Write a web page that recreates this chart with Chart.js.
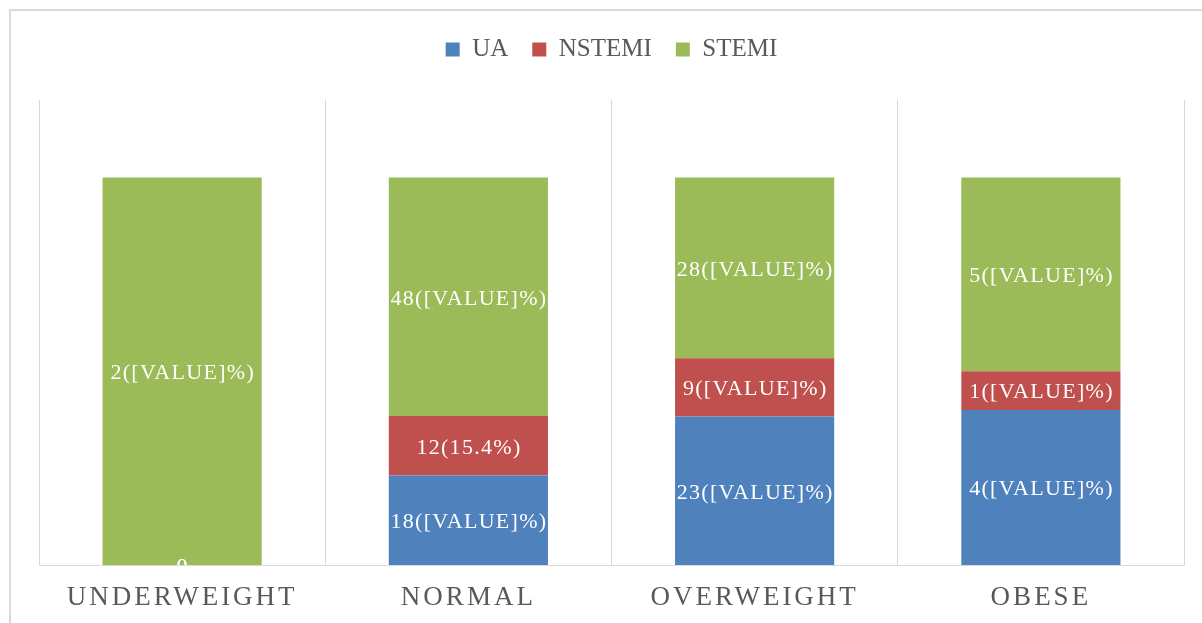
<!DOCTYPE html>
<html>
<head>
<meta charset="utf-8">
<script src="https://cdn.jsdelivr.net/npm/chart.js@4.4.1/dist/chart.umd.min.js"></script>
<style>
  html, body { margin: 0; padding: 0; background: #fff; overflow: hidden; }
  #frame {
    position: absolute; left: 9px; top: 9px;
    width: 1300px; height: 700px;
    border: 2px solid #d9d9d9;
  }
  #wrap { position: absolute; left: 0; top: 0; width: 1202px; height: 623px; overflow: hidden; }
</style>
</head>
<body>
<div id="frame"></div>
<div id="wrap"><canvas id="chart" width="1202" height="631"></canvas></div>
<script>
// Categories and raw counts
const categories = ['UNDERWEIGHT', 'NORMAL', 'OVERWEIGHT', 'OBESE'];
const uaCounts = [0, 18, 23, 4];
const nstemiCounts = [0, 12, 9, 1];
const stemiCounts = [2, 48, 28, 5];

// Data label texts as shown in the chart
const uaLabels = ['0', '18([VALUE]%)', '23([VALUE]%)', '4([VALUE]%)'];
const nstemiLabels = ['0', '12(15.4%)', '9([VALUE]%)', '1([VALUE]%)'];
const stemiLabels = ['2([VALUE]%)', '48([VALUE]%)', '28([VALUE]%)', '5([VALUE]%)'];

const yMax = 120;

// 100% stacked: turn counts into shares of each category
const totals = categories.map((c, i) => uaCounts[i] + nstemiCounts[i] + stemiCounts[i]);
const toPct = arr => arr.map((v, i) => v / totals[i] * 100);

const SERIF = '"Liberation Serif", "Times New Roman", serif';

// Draw the segment labels in the middle of each bar piece
const segmentLabels = {
    id: 'segmentLabels',
    afterDatasetsDraw(chart) {
        const ctx = chart.ctx;
        const area = chart.chartArea;
        ctx.save();
        ctx.beginPath();
        ctx.rect(area.left, area.top, area.right - area.left, area.bottom - area.top);
        ctx.clip();
        ctx.font = '22px ' + SERIF;
        ctx.fillStyle = '#ffffff';
        ctx.textAlign = 'center';
        ctx.textBaseline = 'middle';
        ctx.letterSpacing = '1.3px';
        chart.data.datasets.forEach((ds, di) => {
            const meta = chart.getDatasetMeta(di);
            meta.data.forEach((bar, i) => {
                const p = bar.getProps(['x', 'y', 'base'], true);
                const cy = (p.y + p.base) / 2 + 2;
                ctx.fillText(ds.segLabels[i], p.x + 0.6, cy);
            });
        });
        ctx.restore();
    }
};

// Letter spacing on the category labels and more room under the legend
const spacingTweaks = {
    id: 'spacingTweaks',
    beforeInit(chart) {
        const legend = chart.legend;
        if (legend) {
            const fit = legend.fit;
            legend.fit = function () {
                fit.call(this);
                this.height += 28;
            };
        }
    },
    afterLayout(chart) {
        const xs = chart.scales.x;
        if (!xs._patched) {
            const orig = xs.drawLabels;
            xs.drawLabels = function (area) {
                const ctx = this.ctx;
                ctx.save();
                ctx.letterSpacing = '3px';
                orig.call(this, area);
                ctx.restore();
            };
            xs._patched = true;
        }
    }
};

const ctx = document.getElementById('chart').getContext('2d');

new Chart(ctx, {
    type: 'bar',
    data: {
        labels: categories,
        datasets: [
            { label: 'UA', data: toPct(uaCounts), backgroundColor: '#4f81bd', segLabels: uaLabels },
            { label: 'NSTEMI', data: toPct(nstemiCounts), backgroundColor: '#c0504d', segLabels: nstemiLabels },
            { label: 'STEMI', data: toPct(stemiCounts), backgroundColor: '#9bbb59', segLabels: stemiLabels }
        ]
    },
    options: {
        responsive: false,
        animation: false,
        layout: {
            padding: { left: 39, right: 18, top: 13, bottom: 0 }
        },
        datasets: {
            bar: {
                categoryPercentage: 0.556,
                barPercentage: 1,
                borderWidth: 0
            }
        },
        plugins: {
            legend: {
                display: true,
                position: 'top',
                labels: {
                    boxWidth: 14,
                    boxHeight: 14,
                    padding: 24,
                    color: '#595959',
                    font: { family: SERIF, size: 25 }
                }
            },
            tooltip: { enabled: false },
            title: { display: false }
        },
        scales: {
            x: {
                stacked: true,
                grid: {
                    display: true,
                    offset: true,
                    color: '#d9d9d9',
                    lineWidth: 1,
                    drawTicks: false
                },
                border: { display: true, color: '#d9d9d9', width: 1 },
                ticks: {
                    color: '#595959',
                    padding: 19.5,
                    font: { family: SERIF, size: 27, lineHeight: 1 }
                }
            },
            y: {
                stacked: true,
                display: false,
                min: 0,
                max: yMax
            }
        }
    },
    plugins: [segmentLabels, spacingTweaks]
});
</script>
</body>
</html>
